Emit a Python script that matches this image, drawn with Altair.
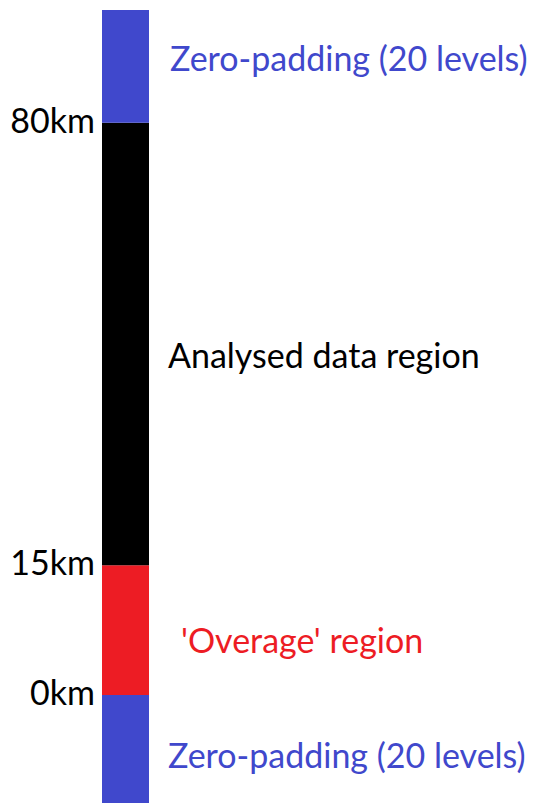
import altair as alt
import pandas as pd

# Vertical column of model levels (units: levels, counted from bottom)
segment_names = ["Zero-padding bottom", "Overage", "Analysed", "Zero-padding top"]
segment_start = [0, 20, 43, 121.4]
segment_end = [20, 43, 121.4, 141.4]
segment_colors = ["#4048CC", "#ED1C24", "#000000", "#4048CC"]

boundary_labels = ["0km", "15km", "80km"]
boundary_levels = [20, 43, 121.4]

region_labels = ["Zero-padding (20 levels)", "'Overage' region", "Analysed data region", "Zero-padding (20 levels)"]
region_colors = ["#4048CC", "#ED1C24", "#000000", "#4048CC"]

FONT = "Lato"
FS = 34
W, H = 521, 787
YDOM = [2.3, 141.75]

seg = pd.DataFrame({"name": segment_names, "y0": segment_start, "y1": segment_end, "color": segment_colors})
bnd = pd.DataFrame({"label": boundary_labels, "y": boundary_levels})

yscale = alt.Scale(domain=YDOM, nice=False, zero=False)

bars = alt.Chart(seg).mark_rect().encode(
    x=alt.value(94), x2=alt.value(141),
    y=alt.Y("y0:Q", scale=yscale, axis=None),
    y2="y1:Q",
    color=alt.Color("color:N", scale=None, legend=None),
)

blabels = alt.Chart(bnd).mark_text(align="right", baseline="middle", font=FONT, fontSize=FS, color="#000000").encode(
    x=alt.value(87), y=alt.Y("y:Q", scale=yscale), text="label:N"
)

layers = [bars, blabels]
dys = [6, 13, 14, -5]
xs = [160, 173, 160, 162]
for i in range(4):
    d = pd.DataFrame({"label": [region_labels[i]], "y": [(segment_start[i] + segment_end[i]) / 2]})
    layers.append(
        alt.Chart(d).mark_text(align="left", baseline="middle", font=FONT, fontSize=FS,
                               color=region_colors[i], dy=dys[i]).encode(
            x=alt.value(xs[i]), y=alt.Y("y:Q", scale=yscale), text="label:N"
        )
    )

chart = alt.layer(*layers).properties(
    width=W, height=H, padding=0, background="#ffffff"
).configure_view(stroke=None)

chart.save("out.html", embed_options={"renderer": "svg", "actions": False})
